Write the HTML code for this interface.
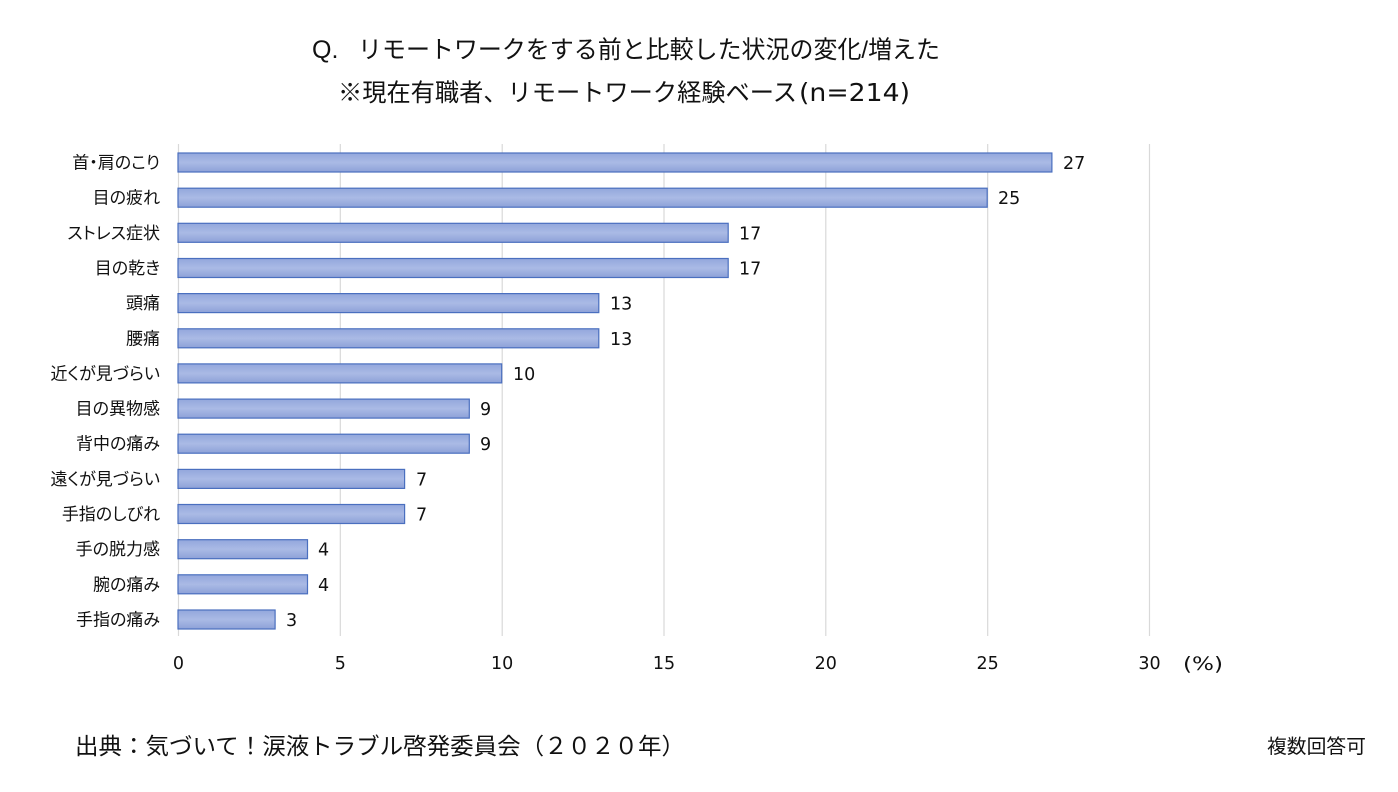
<!DOCTYPE html>
<html>
<head>
<meta charset="utf-8">
<style>
  html,body{margin:0;padding:0;background:#fff;}
  svg{display:block;}
  .jp{font-family:"Liberation Sans","Noto Sans CJK JP",sans-serif;}
  .lbl{font-family:"Liberation Sans","Noto Sans CJK JP",sans-serif;font-size:17px;fill:#111;font-feature-settings:"palt";}
  .num{font-family:"DejaVu Sans","Liberation Sans",sans-serif;font-size:17.5px;fill:#111;}
</style>
</head>
<body>
<svg width="1398" height="792" viewBox="0 0 1398 792" xmlns="http://www.w3.org/2000/svg">
  <defs>
    <linearGradient id="g" x1="0" y1="0" x2="0" y2="1">
      <stop offset="0" stop-color="#93a7dc"/>
      <stop offset="0.5" stop-color="#aabae5"/>
      <stop offset="1" stop-color="#8da1d8"/>
    </linearGradient>
  </defs>
  <rect width="1398" height="792" fill="#fff"/>

  <!-- Title -->
  <text x="312" y="58" font-family="Liberation Sans, sans-serif" font-size="25" fill="#111">Q.</text>
  <text x="358" y="58" class="jp" font-size="24.5" fill="#111" textLength="582" lengthAdjust="spacingAndGlyphs">リモートワークをする前と比較した状況の変化/増えた</text>
  <text x="338" y="101" class="jp" font-size="24.5" fill="#111" textLength="459" lengthAdjust="spacingAndGlyphs">※現在有職者、リモートワーク経験ベース</text>
  <text x="799" y="101" font-family="DejaVu Sans, Liberation Sans, sans-serif" font-size="25" fill="#111" textLength="111" lengthAdjust="spacingAndGlyphs">(n=214)</text>

  <!-- Gridlines -->
  <g stroke="#d9d9d9" stroke-width="1.2">
    <line x1="178.5" y1="144" x2="178.5" y2="636"/>
    <line x1="340.3" y1="144" x2="340.3" y2="636"/>
    <line x1="502.2" y1="144" x2="502.2" y2="636"/>
    <line x1="664" y1="144" x2="664" y2="636"/>
    <line x1="825.8" y1="144" x2="825.8" y2="636"/>
    <line x1="987.7" y1="144" x2="987.7" y2="636"/>
    <line x1="1149.5" y1="144" x2="1149.5" y2="636"/>
  </g>

  <!-- Bars -->
  <g fill="url(#g)" stroke="#4a6fbf" stroke-width="1.2">
    <rect x="178" y="153" width="873.9" height="19"/>
    <rect x="178" y="188.2" width="809.2" height="19"/>
    <rect x="178" y="223.3" width="550.2" height="19"/>
    <rect x="178" y="258.5" width="550.2" height="19"/>
    <rect x="178" y="293.6" width="420.8" height="19"/>
    <rect x="178" y="328.8" width="420.8" height="19"/>
    <rect x="178" y="363.9" width="323.7" height="19"/>
    <rect x="178" y="399.1" width="291.3" height="19"/>
    <rect x="178" y="434.2" width="291.3" height="19"/>
    <rect x="178" y="469.4" width="226.6" height="19"/>
    <rect x="178" y="504.5" width="226.6" height="19"/>
    <rect x="178" y="539.7" width="129.5" height="19"/>
    <rect x="178" y="574.8" width="129.5" height="19"/>
    <rect x="178" y="610" width="97.1" height="19"/>
  </g>

  <!-- Category labels -->
  <g text-anchor="end" class="lbl">
    <text x="160" y="168.5" class="lbl">首・肩のこり</text>
    <text x="160" y="203.7" class="lbl">目の疲れ</text>
    <text x="160" y="238.8" class="lbl">ストレス症状</text>
    <text x="160" y="274" class="lbl">目の乾き</text>
    <text x="160" y="309.1" class="lbl">頭痛</text>
    <text x="160" y="344.3" class="lbl">腰痛</text>
    <text x="160" y="379.4" class="lbl">近くが見づらい</text>
    <text x="160" y="414.6" class="lbl">目の異物感</text>
    <text x="160" y="449.7" class="lbl">背中の痛み</text>
    <text x="160" y="484.9" class="lbl">遠くが見づらい</text>
    <text x="160" y="520" class="lbl">手指のしびれ</text>
    <text x="160" y="555.2" class="lbl">手の脱力感</text>
    <text x="160" y="590.3" class="lbl">腕の痛み</text>
    <text x="160" y="625.5" class="lbl">手指の痛み</text>
  </g>

  <!-- Value labels -->
  <g class="num">
    <text x="1063" y="169" class="num">27</text>
    <text x="998" y="204.2" class="num">25</text>
    <text x="739" y="239.3" class="num">17</text>
    <text x="739" y="274.5" class="num">17</text>
    <text x="610" y="309.6" class="num">13</text>
    <text x="610" y="344.8" class="num">13</text>
    <text x="513" y="379.9" class="num">10</text>
    <text x="480" y="415.1" class="num">9</text>
    <text x="480" y="450.2" class="num">9</text>
    <text x="416" y="485.4" class="num">7</text>
    <text x="416" y="520.5" class="num">7</text>
    <text x="318" y="555.7" class="num">4</text>
    <text x="318" y="590.8" class="num">4</text>
    <text x="286" y="626" class="num">3</text>
  </g>

  <!-- X tick labels -->
  <g class="num" text-anchor="middle">
    <text x="178.5" y="669" class="num">0</text>
    <text x="340.3" y="669" class="num">5</text>
    <text x="502.2" y="669" class="num">10</text>
    <text x="664" y="669" class="num">15</text>
    <text x="825.8" y="669" class="num">20</text>
    <text x="987.7" y="669" class="num">25</text>
    <text x="1149.5" y="669" class="num">30</text>
  </g>
  <text x="1183" y="670" font-family="DejaVu Sans, Liberation Sans, sans-serif" font-size="19" fill="#111" textLength="40" lengthAdjust="spacingAndGlyphs">(%)</text>

  <!-- Footer -->
  <text x="75" y="754" class="jp" font-size="23" fill="#111" textLength="610" lengthAdjust="spacingAndGlyphs">出典：気づいて！涙液トラブル啓発委員会（２０２０年）</text>
  <text x="1267" y="753" class="jp" font-size="19.5" fill="#111" textLength="99" lengthAdjust="spacingAndGlyphs">複数回答可</text>
</svg>
</body>
</html>
